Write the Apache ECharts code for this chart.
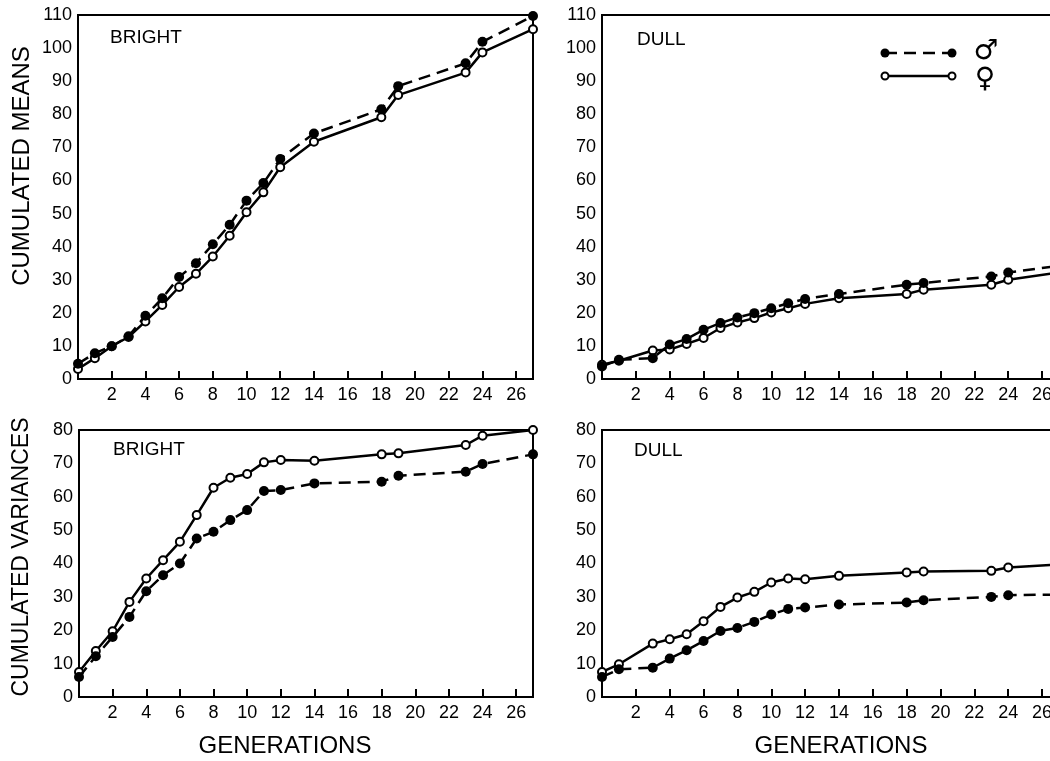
<!DOCTYPE html>
<html>
<head>
<meta charset="utf-8">
<script src="https://cdn.jsdelivr.net/npm/echarts@6/dist/echarts.min.js"></script>
<style>
html, body { margin: 0; padding: 0; background: #fff; }
#chart { width: 1050px; height: 761px; }
</style>
</head>
<body>
<div id="chart"></div>
<script>
// generations sampled in each line
const brightGens = [0, 1, 2, 3, 4, 5, 6, 7, 8, 9, 10, 11, 12, 14, 18, 19, 23, 24, 27];
const dullGens = [0, 1, 3, 4, 5, 6, 7, 8, 9, 10, 11, 12, 14, 18, 19, 23, 24, 27];

// cumulated means
const brightMeanMale = [4.6, 7.8, 9.9, 12.9, 19.1, 24.4, 30.8, 35, 40.7, 46.6, 53.9, 59.2, 66.5, 74.2, 81.5, 88.5, 95.4, 101.9, 109.7];
const brightMeanFemale = [3.0, 6.3, 9.9, 12.7, 17.4, 22.4, 27.8, 31.8, 37, 43.3, 50.4, 56.4, 64, 71.7, 79.1, 85.8, 92.6, 98.7, 105.7];
const dullMeanMale = [3.8, 5.8, 6.3, 10.4, 12.1, 14.9, 16.9, 18.6, 19.9, 21.4, 22.9, 24.2, 25.7, 28.5, 29, 31, 32.2, 34.2];
const dullMeanFemale = [4.3, 5.5, 8.6, 8.9, 10.6, 12.4, 15.4, 17.1, 18.4, 20.1, 21.4, 22.7, 24.4, 25.7, 27, 28.5, 30, 32.2];

// cumulated variances
const brightVarMale = [6, 12.2, 18, 24, 31.7, 36.5, 40, 47.5, 49.5, 53, 56, 61.7, 62, 64, 64.5, 66.3, 67.5, 69.8, 72.7];
const brightVarFemale = [7.5, 13.8, 19.7, 28.5, 35.5, 41, 46.5, 54.5, 62.7, 65.7, 66.8, 70.3, 71, 70.8, 72.7, 73, 75.5, 78.3, 80];
const dullVarMale = [6, 8.3, 8.8, 11.5, 14, 16.8, 19.8, 20.7, 22.5, 24.7, 26.4, 26.8, 27.7, 28.3, 29, 30, 30.5, 30.7];
const dullVarFemale = [7.5, 9.8, 16, 17.3, 18.8, 22.7, 27, 29.8, 31.5, 34.3, 35.5, 35.3, 36.3, 37.3, 37.6, 37.8, 38.8, 39.7];

const FONT = 'Liberation Sans';

function pairs(gens, values) {
    return gens.map(function (g, i) {
        return [g, values[i]];
    });
}

function makeGrid(left, top, width, height) {
    return {
        left: left, top: top, width: width, height: height,
        outerBoundsMode: 'none',
        containLabel: false,
        show: true, borderColor: '#000', borderWidth: 2
    };
}

function makeXAxis(gridIndex) {
    return {
        type: 'value',
        gridIndex: gridIndex,
        min: 0,
        max: 27,
        interval: 2,
        axisLine: { show: true, lineStyle: { color: '#000', width: 2 } },
        axisTick: { show: true, inside: true, length: 8, lineStyle: { color: '#000', width: 2 } },
        axisLabel: {
            color: '#000',
            fontSize: 18,
            fontFamily: FONT,
            margin: 7,
            formatter: function (v) {
                return (v > 0 && v % 2 === 0) ? String(v) : '';
            }
        },
        splitLine: { show: false }
    };
}

function makeYAxis(gridIndex, max) {
    return {
        type: 'value',
        gridIndex: gridIndex,
        min: 0,
        max: max,
        interval: 10,
        axisLine: { show: true, lineStyle: { color: '#000', width: 2 } },
        axisTick: { show: false },
        axisLabel: { color: '#000', fontSize: 18, fontFamily: FONT, margin: 6 },
        splitLine: { show: false }
    };
}

function sexSeries(gridIndex, gens, values, male) {
    return {
        type: 'line',
        xAxisIndex: gridIndex,
        yAxisIndex: gridIndex,
        data: pairs(gens, values),
        symbol: 'circle',
        symbolSize: male ? 10 : 8,
        showSymbol: true,
        lineStyle: { color: '#000', width: 2.5, type: male ? [12, 7] : 'solid' },
        itemStyle: male
            ? { color: '#000', borderColor: '#000', borderWidth: 0 }
            : { color: '#fff', borderColor: '#000', borderWidth: 2 },
        z: male ? 3 : 2
    };
}

function panelLabel(text, x, y) {
    return {
        type: 'text',
        left: x,
        top: y,
        style: { text: text, fill: '#000', font: '19px ' + FONT }
    };
}

let chart = echarts.init(document.getElementById('chart'));

chart.setOption({
    animation: false,
    backgroundColor: '#fff',
    grid: [
        makeGrid(78, 15, 455, 364),
        makeGrid(602, 15, 457, 364),
        makeGrid(79, 430, 454, 267),
        makeGrid(602, 430, 457, 267)
    ],
    xAxis: [makeXAxis(0), makeXAxis(1), makeXAxis(2), makeXAxis(3)],
    yAxis: [makeYAxis(0, 110), makeYAxis(1, 110), makeYAxis(2, 80), makeYAxis(3, 80)],
    series: [
        sexSeries(0, brightGens, brightMeanFemale, false),
        sexSeries(0, brightGens, brightMeanMale, true),
        sexSeries(1, dullGens, dullMeanFemale, false),
        sexSeries(1, dullGens, dullMeanMale, true),
        sexSeries(2, brightGens, brightVarFemale, false),
        sexSeries(2, brightGens, brightVarMale, true),
        sexSeries(3, dullGens, dullVarFemale, false),
        sexSeries(3, dullGens, dullVarMale, true)
    ],
    graphic: [
        panelLabel('BRIGHT', 110, 28),
        panelLabel('DULL', 637, 30),
        panelLabel('BRIGHT', 113, 440),
        panelLabel('DULL', 634, 441),
        {
            type: 'text', x: 22, y: 166, rotation: Math.PI / 2,
            style: { text: 'CUMULATED MEANS', fill: '#000', font: '24px ' + FONT, align: 'center', verticalAlign: 'middle' }
        },
        {
            type: 'text', x: 22, y: 557, rotation: Math.PI / 2,
            style: { text: 'CUMULATED VARIANCES', fill: '#000', font: '23px ' + FONT, align: 'center', verticalAlign: 'middle' }
        },
        {
            type: 'text', x: 285, y: 746,
            style: { text: 'GENERATIONS', fill: '#000', font: '24px ' + FONT, align: 'center', verticalAlign: 'middle' }
        },
        {
            type: 'text', x: 841, y: 746,
            style: { text: 'GENERATIONS', fill: '#000', font: '24px ' + FONT, align: 'center', verticalAlign: 'middle' }
        },
        // legend
        { type: 'line', shape: { x1: 885, y1: 53, x2: 952, y2: 53 }, style: { stroke: '#000', lineWidth: 2.5, lineDash: [12, 7] } },
        { type: 'circle', shape: { cx: 885, cy: 53, r: 4.5 }, style: { fill: '#000' } },
        { type: 'circle', shape: { cx: 952, cy: 53, r: 4.5 }, style: { fill: '#000' } },
        { type: 'line', shape: { x1: 885, y1: 76, x2: 952, y2: 76 }, style: { stroke: '#000', lineWidth: 2.5 } },
        { type: 'circle', shape: { cx: 885, cy: 76, r: 3.5 }, style: { fill: '#fff', stroke: '#000', lineWidth: 2 } },
        { type: 'circle', shape: { cx: 952, cy: 76, r: 3.5 }, style: { fill: '#fff', stroke: '#000', lineWidth: 2 } },
        {
            type: 'text', x: 986, y: 52,
            style: { text: '\u2642', fill: '#000', font: '28px DejaVu Sans', align: 'center', verticalAlign: 'middle' }
        },
        {
            type: 'text', x: 985, y: 80,
            style: { text: '\u2640', fill: '#000', font: '28px DejaVu Sans', align: 'center', verticalAlign: 'middle' }
        }
    ]
});
</script>
</body>
</html>
